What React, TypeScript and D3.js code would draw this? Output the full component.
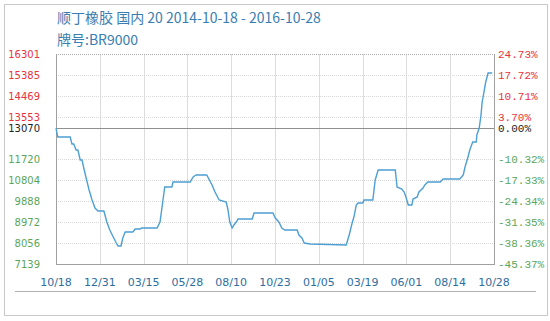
import React from "react";
import * as d3 from "d3";

const titleLine1 = "顺丁橡胶 国内 20 2014-10-18 - 2016-10-28";
const titleLine2 = "牌号:BR9000";

const baseValue = 13070;
const leftTicks = [16301, 15385, 14469, 13553, 13070, 11720, 10804, 9888, 8972, 8056, 7139];
const rightTicks = ["24.73%", "17.72%", "10.71%", "3.70%", "0.00%", "-10.32%", "-17.33%", "-24.34%", "-31.35%", "-38.36%", "-45.37%"];
const xTickLabels = ["10/18", "12/31", "03/15", "05/28", "08/10", "10/23", "01/05", "03/19", "06/01", "08/14", "10/28"];

const dates = [
  "2014-10-18", "2014-10-21", "2014-11-11", "2014-11-14", "2014-11-17", "2014-11-21", "2014-11-24", "2014-11-28",
  "2014-12-01", "2014-12-04", "2014-12-08", "2014-12-13", "2014-12-18", "2014-12-23", "2014-12-28", "2015-01-07",
  "2015-01-12", "2015-01-17", "2015-01-22", "2015-01-28", "2015-01-31", "2015-02-05", "2015-02-08", "2015-02-12",
  "2015-02-25", "2015-03-01", "2015-03-09", "2015-03-12", "2015-04-07", "2015-04-12", "2015-04-17", "2015-04-20",
  "2015-05-02", "2015-05-04", "2015-06-02", "2015-06-07", "2015-06-12", "2015-06-30", "2015-07-09", "2015-07-14",
  "2015-07-21", "2015-08-02", "2015-08-05", "2015-08-08", "2015-08-12", "2015-08-15", "2015-08-19", "2015-08-22",
  "2015-09-15", "2015-09-18", "2015-10-20", "2015-10-24", "2015-10-30", "2015-11-04", "2015-11-09", "2015-11-30",
  "2015-12-03", "2015-12-08", "2015-12-12", "2015-12-22", "2016-02-21", "2016-02-26", "2016-03-02", "2016-03-05",
  "2016-03-09", "2016-03-12", "2016-03-20", "2016-03-22", "2016-04-06", "2016-04-10", "2016-04-15", "2016-05-14",
  "2016-05-17", "2016-05-25", "2016-05-29", "2016-06-01", "2016-06-05", "2016-06-11", "2016-06-13", "2016-06-20",
  "2016-06-23", "2016-06-30", "2016-07-03", "2016-07-08", "2016-07-29", "2016-08-03", "2016-08-31", "2016-09-06",
  "2016-09-09", "2016-09-14", "2016-09-17", "2016-09-22", "2016-09-28", "2016-09-29", "2016-10-03", "2016-10-06",
  "2016-10-08", "2016-10-11", "2016-10-14", "2016-10-18", "2016-10-25",
];

const prices = [
  13070, 12680, 12680, 12374, 12374, 12113, 12113, 11676,
  11676, 11327, 10891, 10367, 9931, 9582, 9451, 9451,
  8971, 8622, 8360, 8055, 7924, 7924, 8273, 8535,
  8535, 8666, 8666, 8709, 8709, 8971, 9931, 10498,
  10498, 10716, 10716, 10935, 11022, 11022, 10585, 10280,
  9931, 9844, 9495, 8971, 8709, 8840, 8971, 9102,
  9102, 9364, 9364, 9146, 8971, 8709, 8622, 8622,
  8404, 8273, 8055, 8011, 7968, 8404, 8928, 9189,
  9713, 9800, 9800, 9931, 9931, 10804, 11240, 11240,
  10498, 10411, 10280, 10062, 9713, 9713, 9975, 10062,
  10280, 10455, 10585, 10716, 10716, 10847, 10847, 11022,
  11371, 11807, 12113, 12462, 12462, 12767, 13070, 13640,
  14207, 14643, 15079, 15472, 15472,
];

const W = 550;
const H = 321;
const plotLeft = 56;
const plotRight = 494;
const plotTop = 54;
const plotBottom = 264;

const parse = d3.timeParse("%Y-%m-%d");

export default function App() {
  const x = d3
    .scaleTime()
    .domain([parse("2014-10-18") as Date, parse("2016-10-28") as Date])
    .range([plotLeft, plotRight]);
  const y = d3.scaleLinear().domain([7139, 16301]).range([plotBottom, plotTop]);

  const data = dates.map((d, i) => ({ date: parse(d) as Date, value: prices[i] }));
  const line = d3
    .line<{ date: Date; value: number }>()
    .x((d) => x(d.date))
    .y((d) => y(d.value));

  const nX = xTickLabels.length;
  const xPos = (i: number) => plotLeft + ((plotRight - plotLeft) * i) / (nX - 1);

  const colorFor = (v: number) => (v > baseValue ? "#e8323c" : v === baseValue ? "#222" : "#5aa65a");

  return (
    <div style={{ position: "absolute", left: 0, top: 0 }}>
      <svg width={W} height={H} style={{ display: "block", background: "#fff" }}>
        <rect x={4.5} y={4.5} width={543} height={311} fill="none" stroke="#c8c8c8" />
        <text x={57} y={23} fontFamily="'Noto Sans CJK SC', sans-serif" fontSize={14} fill="#3a7db0">
          {titleLine1}
        </text>
        <text x={57} y={45} fontFamily="'Noto Sans CJK SC', sans-serif" fontSize={14} fill="#3a7db0">
          {titleLine2}
        </text>

        {/* horizontal grid */}
        {leftTicks.map((t, i) =>
          t === baseValue ? null : (
            <line
              key={"h" + i}
              x1={plotLeft}
              x2={plotRight}
              y1={Math.round(y(t)) + 0.5}
              y2={Math.round(y(t)) + 0.5}
              stroke="#d8d8d8"
              strokeDasharray="1,1"
            />
          )
        )}
        {/* vertical grid */}
        {xTickLabels.map((_, i) => (
          <line
            key={"v" + i}
            x1={Math.round(xPos(i)) + 0.5}
            x2={Math.round(xPos(i)) + 0.5}
            y1={plotTop}
            y2={plotBottom}
            stroke="#dcdcdc"
          />
        ))}
        {/* frame */}
        <line x1={plotLeft} x2={plotRight} y1={plotTop + 0.5} y2={plotTop + 0.5} stroke="#aaa" strokeDasharray="1,1" />
        <line x1={plotLeft + 0.5} x2={plotLeft + 0.5} y1={plotTop} y2={plotBottom} stroke="#a0a0a0" />
        <line x1={plotRight + 0.5} x2={plotRight + 0.5} y1={plotTop} y2={plotBottom} stroke="#a0a0a0" />
        <line x1={plotLeft} x2={plotRight + 1} y1={plotBottom + 0.5} y2={plotBottom + 0.5} stroke="#a0a0a0" />
        {/* base line */}
        <line
          x1={plotLeft}
          x2={plotRight}
          y1={Math.round(y(baseValue)) + 0.5}
          y2={Math.round(y(baseValue)) + 0.5}
          stroke="#909090"
        />

        <path d={line(data) || ""} fill="none" stroke="#4d9fd4" strokeWidth={1.4} />

        {/* left labels */}
        {leftTicks.map((t, i) => (
          <text
            key={"l" + i}
            x={40}
            y={y(t) + 4}
            textAnchor="end"
            fontFamily="'DejaVu Sans', sans-serif"
            fontSize={10}
            fill={colorFor(t)}
          >
            {t}
          </text>
        ))}
        {/* right labels */}
        {rightTicks.map((t, i) => (
          <text
            key={"r" + i}
            x={498}
            y={y(leftTicks[i]) + 4}
            fontFamily="'Liberation Mono', 'DejaVu Sans Mono', monospace"
            fontSize={11}
            fill={colorFor(leftTicks[i])}
          >
            {t}
          </text>
        ))}
        {/* x labels */}
        {xTickLabels.map((t, i) => (
          <text
            key={"x" + i}
            x={xPos(i)}
            y={286}
            textAnchor="middle"
            fontFamily="'DejaVu Sans', sans-serif"
            fontSize={11}
            fill="#2e6e9e"
          >
            {t}
          </text>
        ))}
        <line x1={15} x2={536} y1={291.5} y2={291.5} stroke="#b0b0b0" />
      </svg>
    </div>
  );
}
